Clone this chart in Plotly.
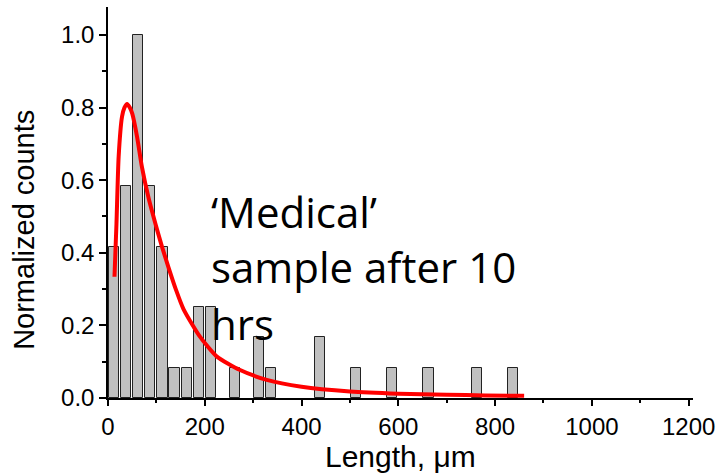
import plotly.graph_objects as go

# ---- data ----
bin_centers = [12.5, 37.5, 62.5, 87.5, 112.5, 137.5, 162.5, 187.5, 212.5,
               262.5, 312.5, 337.5, 437.5, 512.5, 587.5, 662.5, 762.5, 837.5]
norm_counts = [0.417, 0.583, 1.0, 0.583, 0.417, 0.083, 0.083, 0.25, 0.25,
               0.083, 0.167, 0.083, 0.167, 0.083, 0.083, 0.083, 0.083, 0.083]

fit_x = [13.4, 17.5, 22, 29, 34, 39.5, 45, 50, 60, 70, 84, 98, 111.5, 125,
         140, 156, 190, 225, 273, 328, 400, 500, 600, 700, 780, 860]
fit_y = [0.334, 0.48, 0.665, 0.775, 0.80, 0.81, 0.80, 0.784, 0.72, 0.637, 0.55,
         0.48, 0.417, 0.36, 0.30, 0.245, 0.169, 0.114, 0.077, 0.05, 0.031,
         0.018, 0.012, 0.009, 0.007, 0.006]

x_ticks = [0, 200, 400, 600, 800, 1000, 1200]
y_ticks = [0.0, 0.2, 0.4, 0.6, 0.8, 1.0]

annotation_lines = ["\u2018Medical\u2019", "sample after 10", "hrs"]

fig = go.Figure()
fig.add_trace(go.Bar(
    x=bin_centers, y=norm_counts, width=21,
    marker=dict(color="#c0c0c0", line=dict(color="#222222", width=1)),
    showlegend=False,
))
fig.add_trace(go.Scatter(
    x=fit_x, y=fit_y, mode="lines",
    line=dict(color="#ff0000", width=4, shape="spline", smoothing=0.6),
    showlegend=False,
))

tickfont = dict(family="Liberation Sans, Arial", size=24, color="black")
fig.update_xaxes(
    range=[0, 1209], tickvals=x_ticks, ticktext=[str(v) for v in x_ticks],
    showline=True, linecolor="black", linewidth=1.5, showgrid=False, zeroline=False,
    ticks="outside", ticklen=6, tickwidth=1.5, tickcolor="black", tickfont=tickfont,
    minor=dict(dtick=100, ticks="outside", ticklen=3, tickwidth=1.5, tickcolor="black", showgrid=False),
)
fig.update_yaxes(
    range=[0, 1.077], tickvals=y_ticks, ticktext=[f"{v:.1f}" for v in y_ticks],
    showline=True, linecolor="black", linewidth=1.5, showgrid=False, zeroline=False,
    ticks="outside", ticklen=7, tickwidth=1.5, tickcolor="black", tickfont=tickfont,
    minor=dict(dtick=0.1, ticks="outside", ticklen=4, tickwidth=1.5, tickcolor="black", showgrid=False),
)

annos = []
line_y = [0.515, 0.362, 0.205]
for txt, yy in zip(annotation_lines, line_y):
    annos.append(dict(x=209, y=yy, xref="x", yref="y", text=txt, showarrow=False,
                      xanchor="left", yanchor="middle",
                      font=dict(family="Open Sans", size=42, color="black")))
annos.append(dict(x=0.5, y=-0.103, xref="paper", yref="paper", text="Length, \u03bcm",
                  showarrow=False, xanchor="center", yanchor="top",
                  font=dict(family="Liberation Sans, Arial", size=30, color="black")))
annos.append(dict(x=0, y=0.43, xref="paper", yref="paper", text="Normalized counts",
                  showarrow=False, xanchor="center", yanchor="middle", textangle=-90,
                  xshift=-84,
                  font=dict(family="Liberation Sans, Arial", size=29, color="black")))

fig.update_layout(
    width=722, height=476,
    margin=dict(l=108, r=26, t=7, b=78),
    plot_bgcolor="white", paper_bgcolor="white",
    annotations=annos, bargap=0,
)

fig.write_html("out.html")
